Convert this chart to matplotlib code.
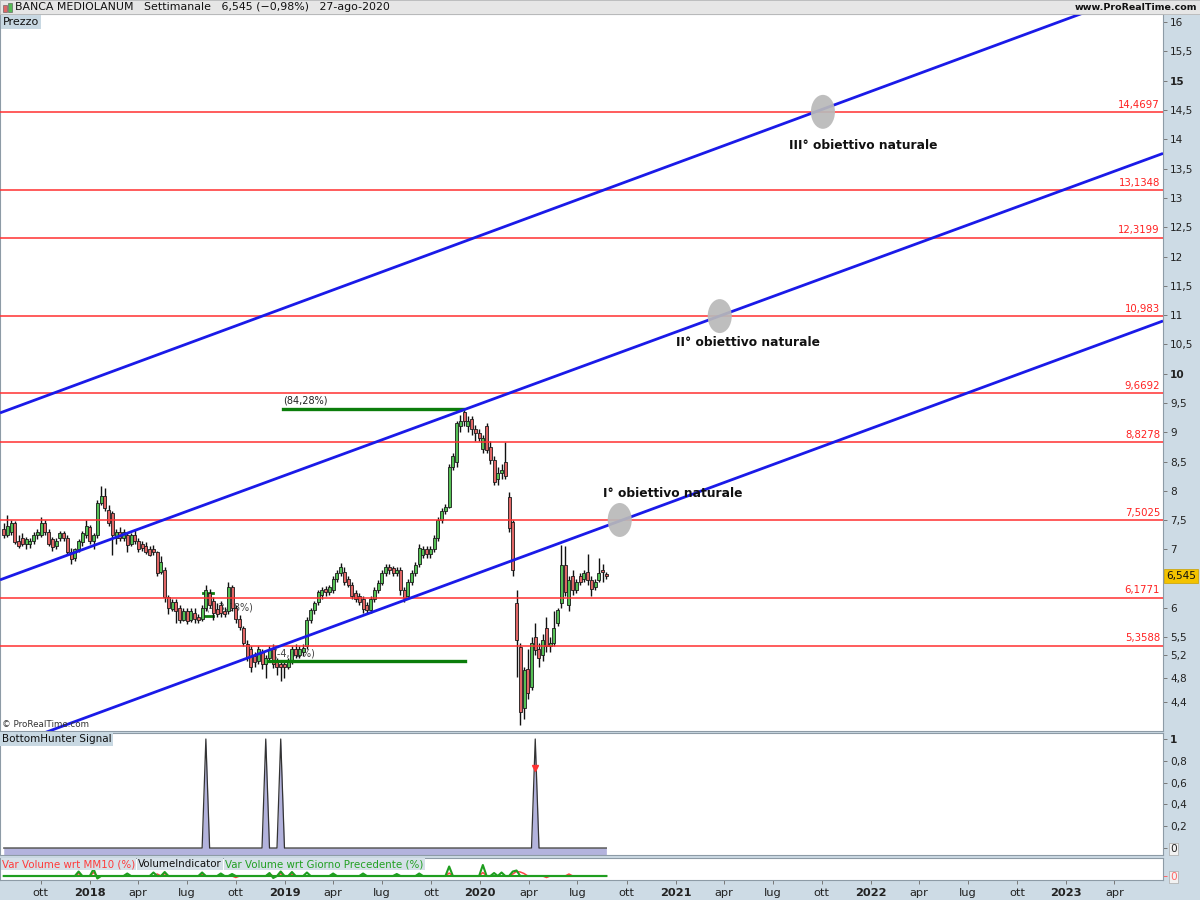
import numpy as np
import pandas as pd
import matplotlib
matplotlib.use("Agg")
import matplotlib.pyplot as plt
import matplotlib.dates as mdates
import matplotlib.transforms as mtransforms
from matplotlib.patches import Ellipse, Rectangle

# ---------------- dati ----------------
settimane = pd.date_range("2017-07-24", periods=162, freq="7D")

aperture = [7.35, 7.25, 7.30, 7.45, 7.15, 7.20, 7.10, 7.10, 7.15, 7.25,
            7.25, 7.45, 7.30, 7.18, 7.05, 7.20, 7.28, 7.20, 6.96, 6.85,
            7.00, 7.12, 7.25, 7.38, 7.15, 7.25, 7.80, 7.92, 7.68, 7.62,
            7.20, 7.30, 7.20, 7.25, 7.10, 7.25, 7.15, 7.10, 7.05, 7.00,
            7.00, 6.95, 6.62, 6.65, 6.18, 5.98, 6.10, 6.00, 5.80, 5.95,
            5.80, 5.92, 5.85, 5.82, 6.00, 6.25, 6.12, 5.98, 6.05, 5.95,
            5.95, 6.35, 6.00, 5.82, 5.66, 5.38, 5.30, 5.18, 5.10, 5.25,
            5.05, 5.15, 5.30, 5.10, 5.05, 5.05, 5.00, 5.10, 5.30, 5.20,
            5.25, 5.35, 5.80, 5.96, 6.10, 6.22, 6.33, 6.28, 6.30, 6.50,
            6.60, 6.62, 6.50, 6.40, 6.25, 6.20, 6.15, 6.05, 5.97, 6.15,
            6.30, 6.43, 6.60, 6.70, 6.68, 6.60, 6.65, 6.30, 6.20, 6.45,
            6.60, 6.75, 6.90, 7.00, 6.93, 7.00, 7.20, 7.50, 7.65, 7.72,
            8.40, 8.50, 9.10, 9.35, 9.10, 9.22, 9.05, 8.98, 8.72, 9.10,
            8.75, 8.53, 8.20, 8.30, 8.50, 7.89, 7.46, 6.08, 5.34, 4.30,
            4.95, 4.65, 5.50, 5.30, 5.20, 5.65, 5.35, 5.40, 5.75, 6.08,
            6.73, 6.05, 6.55, 6.30, 6.55, 6.50, 6.62, 6.48, 6.35, 6.48,
            6.65, 6.58]
massimi = [7.45, 7.58, 7.50, 7.48, 7.25, 7.28, 7.22, 7.20, 7.30, 7.35,
           7.55, 7.50, 7.35, 7.22, 7.20, 7.32, 7.32, 7.25, 7.02, 7.02,
           7.18, 7.32, 7.50, 7.42, 7.28, 7.85, 8.08, 8.05, 7.75, 7.65,
           7.35, 7.38, 7.35, 7.30, 7.28, 7.35, 7.20, 7.15, 7.12, 7.05,
           7.08, 6.98, 6.88, 6.70, 6.22, 6.15, 6.15, 6.05, 6.00, 6.00,
           6.00, 6.00, 5.90, 6.05, 6.40, 6.32, 6.18, 6.08, 6.12, 6.02,
           6.45, 6.40, 6.05, 5.88, 5.70, 5.45, 5.35, 5.25, 5.35, 5.30,
           5.20, 5.35, 5.38, 5.15, 5.12, 5.10, 5.15, 5.35, 5.38, 5.35,
           5.38, 5.85, 6.00, 6.12, 6.30, 6.35, 6.38, 6.40, 6.55, 6.65,
           6.77, 6.70, 6.55, 6.45, 6.30, 6.25, 6.20, 6.10, 6.20, 6.35,
           6.48, 6.65, 6.75, 6.75, 6.72, 6.70, 6.70, 6.36, 6.50, 6.65,
           6.78, 7.10, 7.05, 7.05, 7.05, 7.25, 7.55, 7.70, 7.78, 8.45,
           8.65, 9.20, 9.30, 9.42, 9.28, 9.28, 9.12, 9.05, 8.95, 9.15,
           8.85, 8.60, 8.40, 8.45, 8.83, 7.98, 7.50, 6.31, 5.40, 5.00,
           5.30, 5.50, 5.75, 5.40, 5.55, 5.85, 5.50, 5.95, 6.00, 7.08,
           7.05, 6.55, 6.65, 6.50, 6.60, 6.65, 6.92, 6.55, 6.50, 6.85,
           6.75, 6.62]
minimi = [7.20, 7.22, 7.25, 7.10, 7.02, 7.05, 7.00, 7.02, 7.10, 7.18,
          7.22, 7.25, 7.05, 6.98, 7.00, 7.15, 7.15, 6.92, 6.75, 6.80,
          6.95, 7.05, 7.20, 7.10, 7.00, 7.20, 7.75, 7.65, 7.40, 6.90,
          7.10, 7.15, 7.15, 6.95, 7.05, 7.10, 6.95, 6.98, 6.92, 6.88,
          6.90, 6.55, 6.58, 6.10, 5.90, 5.95, 5.75, 5.75, 5.78, 5.72,
          5.76, 5.75, 5.74, 5.78, 5.95, 6.00, 5.80, 5.85, 5.85, 5.85,
          5.90, 5.95, 5.75, 5.62, 5.35, 5.10, 4.90, 5.00, 5.05, 4.95,
          4.80, 5.10, 4.98, 4.85, 4.75, 4.80, 4.95, 5.05, 5.15, 5.15,
          5.18, 5.30, 5.75, 5.90, 6.05, 6.15, 6.20, 6.22, 6.25, 6.45,
          6.55, 6.40, 6.35, 6.15, 6.10, 6.05, 5.92, 5.90, 5.92, 6.10,
          6.25, 6.40, 6.55, 6.58, 6.55, 6.55, 6.22, 6.10, 6.15, 6.40,
          6.55, 6.70, 6.85, 6.85, 6.85, 6.95, 7.15, 7.45, 7.60, 7.70,
          8.35, 8.40, 9.00, 9.10, 9.00, 8.95, 8.85, 8.85, 8.65, 8.65,
          8.45, 8.10, 8.10, 8.20, 8.20, 7.30, 6.55, 4.82, 4.00, 4.10,
          4.45, 4.60, 5.20, 5.00, 5.10, 5.25, 5.25, 5.35, 5.70, 6.00,
          6.20, 5.95, 6.22, 6.25, 6.40, 6.45, 6.40, 6.20, 6.30, 6.45,
          6.45, 6.50]
chiusure = [7.25, 7.40, 7.45, 7.13, 7.05, 7.10, 7.18, 7.15, 7.25, 7.30,
            7.45, 7.30, 7.10, 7.04, 7.15, 7.28, 7.20, 6.96, 6.84, 7.00,
            7.15, 7.28, 7.40, 7.15, 7.25, 7.80, 7.92, 7.70, 7.45, 7.25,
            7.30, 7.20, 7.30, 7.08, 7.25, 7.15, 7.00, 7.02, 6.96, 6.90,
            6.95, 6.60, 6.78, 6.18, 6.00, 6.10, 5.95, 5.80, 5.95, 5.78,
            5.95, 5.82, 5.80, 6.00, 6.30, 6.05, 5.92, 5.90, 5.92, 5.90,
            6.35, 6.00, 5.82, 5.68, 5.40, 5.16, 5.00, 5.08, 5.30, 5.05,
            5.15, 5.30, 5.05, 5.00, 5.00, 5.00, 5.10, 5.30, 5.20, 5.30,
            5.32, 5.80, 5.96, 6.08, 6.27, 6.30, 6.28, 6.35, 6.50, 6.60,
            6.70, 6.45, 6.40, 6.20, 6.15, 6.10, 5.98, 5.97, 6.15, 6.30,
            6.43, 6.60, 6.70, 6.65, 6.60, 6.65, 6.30, 6.17, 6.45, 6.60,
            6.73, 7.02, 7.00, 6.93, 7.00, 7.20, 7.50, 7.65, 7.72, 8.40,
            8.60, 9.15, 9.20, 9.20, 9.20, 9.05, 8.98, 8.90, 8.90, 8.70,
            8.52, 8.15, 8.30, 8.35, 8.25, 7.36, 6.65, 5.45, 4.22, 4.94,
            4.55, 5.40, 5.28, 5.15, 5.45, 5.35, 5.40, 5.65, 5.97, 6.73,
            6.27, 6.48, 6.31, 6.45, 6.45, 6.60, 6.48, 6.32, 6.45, 6.60,
            6.61, 6.545]

livelli = [14.4697, 13.1348, 12.3199, 10.983, 9.6692, 8.8278, 7.5025, 6.1771, 5.3588]
etichette_livelli = ["14,4697", "13,1348", "12,3199", "10,983", "9,6692",
                     "8,8278", "7,5025", "6,1771", "5,3588"]

# canale (estremi delle tre rette blu)
canale_date = [pd.Timestamp("2017-07-17"), pd.Timestamp("2023-07-01")]
canale_alto = [9.33, 16.66]
canale_medio = [6.48, 13.76]
canale_basso = [3.59, 10.90]

# obiettivi: cerchi grigi e relative scritte
obiettivi_date = [pd.Timestamp("2020-09-18"), pd.Timestamp("2021-03-24"), pd.Timestamp("2021-10-03")]
obiettivi_prezzi = [7.5025, 10.983, 14.4697]
obiettivi_testi = ["I° obiettivo naturale", "II° obiettivo naturale", "III° obiettivo naturale"]
testi_date = [pd.Timestamp("2020-08-17"), pd.Timestamp("2021-01-01"), pd.Timestamp("2021-07-31")]
testi_prezzi = [7.96, 10.54, 13.90]

# BottomHunter: settimane con segnale
segnali_idx = [54, 70, 74, 142]

# volumi: picchi delle due serie
vol_verde_idx = [20, 24, 25, 33, 40, 43, 53, 58, 61, 71, 72, 74, 77, 81, 88, 96, 105, 111, 119, 128, 131, 133, 136, 137]
vol_verde_val = [45, 70, -25, 25, 35, 40, 35, 25, 20, 30, -20, 45, 40, 35, 25, 25, 20, 25, 95, 110, 30, 35, 45, 55]
vol_rosso_idx = [20, 24, 41, 43, 53, 62, 71, 74, 77, 88, 119, 128, 136, 137, 138, 139, 145, 151]
vol_rosso_val = [25, 35, 20, 25, 20, -15, 20, 25, 20, 15, 30, 35, 20, 45, 40, 25, -15, 20]

# ---------------- figura ----------------
W, H = 1200, 900
fig = plt.figure(figsize=(12, 9), dpi=100)
fig.patch.set_facecolor("#cddbe5")


def px_axes(x0, y0, x1, y1):
    return fig.add_axes([x0 / W, 1 - y1 / H, (x1 - x0) / W, (y1 - y0) / H])


bordo = "#8d9ba6"
xmin, xmax = pd.Timestamp("2017-07-17"), pd.Timestamp("2023-07-01")

# intestazione
fig.patches.append(Rectangle((0, 1 - 14 / H), 1, 14 / H, transform=fig.transFigure,
                             facecolor="#e6e6e6", edgecolor="#b8b8b8", lw=0.6))
fig.patches.append(Rectangle((3 / W, 1 - 12 / H), 4 / W, 7 / H, transform=fig.transFigure,
                             facecolor="#e06666", edgecolor="#555", lw=0.4))
fig.patches.append(Rectangle((8 / W, 1 - 12 / H), 4 / W, 9 / H, transform=fig.transFigure,
                             facecolor="#55bb55", edgecolor="#555", lw=0.4))
fig.text(15 / W, 1 - 7.5 / H,
         "BANCA MEDIOLANUM   Settimanale   6,545 (\u22120,98%)   27-ago-2020",
         fontsize=7.9, va="center", ha="left", color="#111")
fig.text(1197 / W, 1 - 7.5 / H, "www.ProRealTime.com", fontsize=6.8, va="center",
         ha="right", color="#111", fontweight="bold")

# ---------------- pannello prezzi ----------------
ax = px_axes(0, 14, 1163, 731)
ax.set_xlim(xmin, xmax)
ax.set_ylim(3.90, 16.14)

corpo_basso = np.minimum(aperture, chiusure)
corpo_alt = np.maximum(np.abs(np.array(chiusure) - np.array(aperture)), 0.025)
colori = ["#55c055" if c >= o else "#e06666" for o, c in zip(aperture, chiusure)]
ax.vlines(settimane, minimi, massimi, color="#111", lw=1.0, zorder=2)
ax.bar(settimane, corpo_alt, bottom=corpo_basso, width=5.6, color=colori,
       edgecolor="#1a1a1a", linewidth=0.6, zorder=2.5)

trans_livelli = mtransforms.blended_transform_factory(ax.transAxes, ax.transData)
for lv, et in zip(livelli, etichette_livelli):
    ax.axhline(lv, color="#ff3030", lw=1.1, zorder=3)
    ax.text(1160 / 1163, lv + 0.04, et, transform=trans_livelli, ha="right", va="bottom",
            color="#ff2020", fontsize=7.3, zorder=6)

for serie in (canale_alto, canale_medio, canale_basso):
    ax.plot(canale_date, serie, color="#1a1ae8", lw=2, zorder=4, solid_capstyle="butt")

for d, p in zip(obiettivi_date, obiettivi_prezzi):
    ax.add_patch(Ellipse((mdates.date2num(d), p), width=45, height=0.58,
                         facecolor="#b9b9b9", edgecolor="none", alpha=0.92, zorder=5))
for d, p, t in zip(testi_date, testi_prezzi, obiettivi_testi):
    ax.text(d, p, t, fontsize=8.8, fontweight="bold", ha="left", va="center",
            color="#111", zorder=6)

# misure verdi
ax.plot([pd.Timestamp("2018-12-28"), pd.Timestamp("2019-11-29")], [9.396, 9.396],
        color="#0b7d0b", lw=2.4, zorder=3.5)
ax.plot([pd.Timestamp("2018-11-30"), pd.Timestamp("2019-12-03")], [5.10, 5.10],
        color="#0b7d0b", lw=2.4, zorder=3.5)
ax.text(pd.Timestamp("2018-12-28"), 9.45, "(84,28%)", fontsize=7, color="#222",
        ha="left", va="bottom", zorder=6)
ax.text(pd.Timestamp("2018-12-10"), 5.14, "(-4,62%)", fontsize=7, color="#444",
        ha="left", va="bottom", zorder=1.5)
ax.plot([pd.Timestamp("2018-08-01"), pd.Timestamp("2018-08-20")], [6.25, 6.25],
        color="#0b7d0b", lw=2, zorder=1.5)
ax.plot([pd.Timestamp("2018-08-01"), pd.Timestamp("2018-08-20")], [5.86, 5.86],
        color="#0b7d0b", lw=2, zorder=1.5)
ax.text(pd.Timestamp("2018-08-05"), 5.93, "(-13,08%)", fontsize=7, color="#444",
        ha="left", va="bottom", zorder=1.5)

ax.text(2 / 1163, 0.003, "\u00a9 ProRealTime.com", transform=ax.transAxes, fontsize=6.3,
        color="#333", ha="left", va="bottom", zorder=6)
ax.text(3 / 1163, 1 - 8 / 717, "Prezzo", transform=ax.transAxes, fontsize=8, color="#111",
        ha="left", va="center", zorder=7,
        bbox=dict(boxstyle="square,pad=0.15", facecolor="#c8d8e2", edgecolor="none"))

tick_prezzi = [4.4, 4.8, 5.2, 5.5, 6, 7, 7.5, 8, 8.5, 9, 9.5, 10, 10.5, 11, 11.5,
               12, 12.5, 13, 13.5, 14, 14.5, 15, 15.5, 16]
ax.yaxis.tick_right()
ax.set_yticks(tick_prezzi)
ax.set_yticklabels([("%g" % t).replace(".", ",") for t in tick_prezzi])
for t, lab in zip(tick_prezzi, ax.get_yticklabels()):
    if t in (10, 15):
        lab.set_fontweight("bold")
ax.tick_params(axis="y", direction="out", length=3, width=0.7, colors="#777",
               labelcolor="#222", labelsize=7.6, pad=2)
ax.set_xticks([])
ax.text(1.003, 6.545, "6,545", transform=trans_livelli, fontsize=7.6, color="#111",
        ha="left", va="center", clip_on=False, zorder=8,
        bbox=dict(boxstyle="square,pad=0.2", facecolor="#f3c300", edgecolor="#c9a000", lw=0.5))
for s in ax.spines.values():
    s.set_color(bordo)
    s.set_linewidth(0.8)

# ---------------- BottomHunter ----------------
ax2 = px_axes(0, 733, 1163, 855)
ax2.set_xlim(xmin, xmax)
ax2.set_ylim(-0.064, 1.055)
segnale = np.zeros(len(settimane))
segnale[segnali_idx] = 1.0
ax2.fill_between(settimane, segnale, -0.07, color="#b3b3dd", lw=0, zorder=2)
ax2.plot(settimane, segnale, color="#333", lw=0.9, zorder=3)
ax2.plot(settimane[142], 0.73, marker="v", color="#ff3333", markersize=4.5, zorder=4)
ax2.text(2 / 1163, 1 - 6 / 122, "BottomHunter Signal", transform=ax2.transAxes,
         fontsize=7.5, color="#111", ha="left", va="center",
         bbox=dict(boxstyle="square,pad=0.15", facecolor="#c8d8e2", edgecolor="none"))
ax2.yaxis.tick_right()
ax2.set_yticks([0, 0.2, 0.4, 0.6, 0.8, 1])
ax2.set_yticklabels(["0", "0,2", "0,4", "0,6", "0,8", "1"])
ax2.get_yticklabels()[-1].set_fontweight("bold")
ax2.get_yticklabels()[0].set_bbox(dict(boxstyle="square,pad=0.1", facecolor="#f2f2f2",
                                       edgecolor="#aaa", lw=0.5))
ax2.tick_params(axis="y", direction="out", length=3, width=0.7, colors="#777",
                labelcolor="#222", labelsize=7.6, pad=2)
ax2.set_xticks([])
for s in ax2.spines.values():
    s.set_color(bordo)
    s.set_linewidth(0.8)

# ---------------- volumi ----------------
ax3 = px_axes(0, 858, 1163, 880)
ax3.set_xlim(xmin, xmax)
ax3.set_ylim(-40, 180)
vol_verde = np.zeros(len(settimane))
vol_verde[vol_verde_idx] = vol_verde_val
vol_rosso = np.zeros(len(settimane))
vol_rosso[vol_rosso_idx] = vol_rosso_val
ax3.plot(settimane, vol_rosso, color="#ff4444", lw=1.1, zorder=2)
ax3.plot(settimane, vol_verde, color="#1f9e1f", lw=1.5, zorder=3)
ax3.plot([settimane[0], settimane[-1]], [0, 0], color="#1f9e1f", lw=1.5, zorder=3)
x_et = 2
for testo, col in (("Var Volume wrt MM10 (%)", "#ff3b3b"),
                   ("VolumeIndicator", "#111"),
                   ("Var Volume wrt Giorno Precedente (%)", "#22a022")):
    t = ax3.text(x_et / 1163, 0.72, testo, transform=ax3.transAxes, fontsize=7.4,
                 color=col, ha="left", va="center", zorder=5,
                 bbox=dict(boxstyle="square,pad=0.12", facecolor="#d5e0e8", edgecolor="none"))
    fig.canvas.draw()
    bb = t.get_window_extent()
    x_et += bb.width + 3
ax3.yaxis.tick_right()
ax3.set_yticks([0])
ax3.set_yticklabels(["0"])
ax3.get_yticklabels()[0].set_color("#ff3333")
ax3.get_yticklabels()[0].set_bbox(dict(boxstyle="square,pad=0.1", facecolor="#f2f2f2",
                                       edgecolor="#aaa", lw=0.5))
ax3.tick_params(axis="y", direction="out", length=3, width=0.7, colors="#ff6666",
                labelsize=7.6, pad=2)

mesi = {1: None, 4: "apr", 7: "lug", 10: "ott"}
tick_date = pd.date_range("2017-10-01", "2023-04-01", freq="3MS")
ax3.set_xticks(tick_date)
ax3.set_xticklabels([str(d.year) if d.month == 1 else mesi[d.month] for d in tick_date])
for d, lab in zip(tick_date, ax3.get_xticklabels()):
    if d.month == 1:
        lab.set_fontweight("bold")
        lab.set_fontsize(9)
ax3.tick_params(axis="x", direction="out", length=3, width=0.7, colors="#777",
                labelcolor="#222", labelsize=8.2, pad=2.5)
for s in ax3.spines.values():
    s.set_color(bordo)
    s.set_linewidth(0.8)

fig.savefig("out.png", dpi=100)
